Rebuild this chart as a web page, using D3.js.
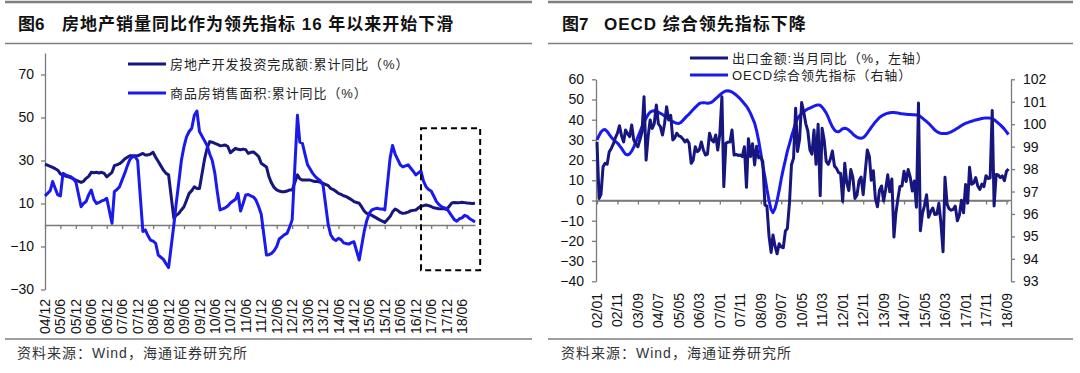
<!DOCTYPE html>
<html lang="zh">
<head>
<meta charset="utf-8">
<title>图6 / 图7</title>
<script src="https://cdn.jsdelivr.net/npm/d3@7"></script>
<style>
  html, body { margin: 0; padding: 0; background: #fff; }
  svg { display: block; }
  text { font-family: "Liberation Sans", Arial, "Noto Sans CJK SC", sans-serif; fill: #111; }
</style>
</head>
<body>
<svg id="chart" width="1080" height="373"></svg>
<script>
// =====================================================================
// 图6 数据：房地产（累计同比，1月无数据 → null）
// =====================================================================
const fig6Label = '图6';
const fig6Title = '房地产销量同比作为领先指标 16 年以来开始下滑';
const fig6Start = '2004-12';
const fig6Names = ['房地产开发投资完成额:累计同比（%）', '商品房销售面积:累计同比（%）'];

const investYoY = [
  28.3,
  null, 27.3, 26.8, 26.2, 25.5, 23.8, 23.2, 22.8, 22.4, 22.0, 21.4, 20.9,
  null, 19.8, 20.3, 21.7, 22.6, 24.5, 24.3, 24.5, 24.2, 24.5, 24.0, 22.4,
  null, 24.5, 27.6, 28.0, 28.5, 29.5, 30.7, 31.5, 32.2, 32.2, 32.2, 32.2,
  null, 33.3, 32.6, 32.6, 33.0, 33.8, 31.5, 29.5, 27.5, 25.5, 24.0, 23.3,
  null, 3.1, 4.5, 5.4, 7.0, 8.5, 11.5, 14.7, 16.0, 17.8, 17.0, 17.0,
  null, 31.0, 35.7, 38.8, 38.5, 38.0, 37.5, 36.9, 37.0, 37.2, 36.5, 33.6,
  null, 35.7, 35.2, 35.0, 35.3, 35.0, 33.3, 33.8, 34.0, 33.0, 31.8, 28.7,
  null, 27.0, 22.5, 19.5, 17.5, 16.3, 15.8, 15.5, 15.5, 15.8, 16.3, 16.3,
  null, 23.3, 21.5, 20.9, 20.9, 20.9, 20.9, 20.5, 20.2, 20.2, 19.8, 19.4,
  null, 18.3, 17.0, 16.5, 15.7, 14.7, 14.2, 13.6, 13.2, 12.5, 11.8, 10.9,
  null, 10.1, 8.5, 6.5, 5.4, 5.0, 4.5, 3.8, 3.1, 2.4, 1.8, 1.2,
  null, 3.9, 6.0, 7.4, 6.8, 5.8, 5.4, 5.6, 6.0, 6.6, 6.8, 7.0,
  null, 8.8, 9.0, 9.3, 9.0, 8.6, 8.0, 7.8, 7.6, 7.5, 7.6, 7.2,
  null, 10.3, 10.5, 10.3, 10.4, 10.6, 10.4, 10.2, 10.1, 10.0, 10.1
];

const salesAreaYoY = [
  13.5,
  null, 16.0, 20.2, 17.0, 14.0, 13.5, 24.0, 23.3, 22.8, 22.5, 21.5, 20.0,
  null, 8.5, 10.0, 10.9, 14.0, 16.3, 12.0, 10.0, 10.5, 11.2, 11.6, 12.4,
  null, 0.8, 15.5, 16.5, 17.8, 21.0, 24.0, 27.5, 30.5, 31.8, 31.8, 30.0,
  null, -3.0, -2.3, -5.0, -7.0, -7.5, -8.5, -14.0, -15.0, -16.0, -18.0, -19.8,
  null, 0.0, 10.0, 20.0, 30.0, 36.5, 41.0, 43.5, 45.0, 51.0, 53.0, 43.5,
  null, 39.0, 37.0, 33.0, 30.0, 24.0, 15.0, 7.0, 7.5, 8.0, 8.8, 10.2,
  null, 12.0, 14.7, 6.5, 10.0, 14.0, 14.2, 13.5, 13.0, 11.5, 8.5, 5.0,
  null, -14.0, -13.8, -13.2, -12.0, -10.0, -6.5, -5.5, -4.5, -3.9, -1.0, 2.5,
  null, 51.0, 38.5, 38.0, 33.0, 28.0, 26.0, 24.0, 22.5, 21.5, 20.5, 18.5,
  null, -0.1, -4.5, -6.5, -7.2, -6.2, -6.8, -8.3, -8.6, -8.9, -8.2, -7.8,
  null, -16.3, -10.0, -3.0, 2.0, 5.5, 7.0, 7.5, 7.8, 7.5, 7.5, 7.0,
  null, 31.0, 37.0, 33.0, 30.5, 28.0, 27.0, 27.5, 28.0, 26.5, 25.0, 23.3,
  null, 25.1, 20.5, 17.8, 16.5, 15.8, 13.5, 11.0, 9.5, 8.5, 8.0, 7.7,
  null, 4.1, 2.5, 1.8, 2.9, 3.3, 4.5, 4.0, 2.9, 2.2, 1.4
];

const fig6Ticks = ['04/12', '05/06', '05/12', '06/06', '06/12', '07/06', '07/12', '08/06', '08/12',
  '09/06', '09/12', '10/06', '10/12', '11/06', '11/12', '12/06', '12/12', '13/06', '13/12',
  '14/06', '14/12', '15/06', '15/12', '16/06', '16/12', '17/06', '17/12', '18/06'];
const fig6YTicks = [-30, -10, 10, 30, 50, 70];
const fig6YDomain = [-30, 80];
// 虚线框：起止月份、上下沿取值
const fig6BoxMonths = ['17/02', '19/01'];
const fig6BoxValues = [45, -21];

// =====================================================================
// 图7 数据：出口当月同比（左轴）与 OECD 综合领先指标（右轴）
// =====================================================================
const fig7Label = '图7';
const fig7Title = 'OECD 综合领先指标下降';
const fig7Start = '2002-01';
const fig7Names = ['出口金额:当月同比（%，左轴）', 'OECD综合领先指标（右轴）'];

const exportYoY = [
  29.0, 1.0, 3.0, 16.7, 18.4, 18.0, 24.0, 25.8, 28.0, 31.0, 33.3, 37.0,
  32.0, 29.0, 34.9, 33.0, 31.6, 37.4, 30.0, 28.0, 26.6, 30.0, 34.0, 51.4,
  20.0, 32.0, 39.9, 35.7, 38.0, 47.3, 38.0, 36.5, 32.4, 38.0, 46.4, 39.9,
  42.2, 30.0, 31.0, 33.3, 32.0, 31.6, 30.5, 29.0, 30.0, 28.3, 18.4, 20.0,
  26.6, 24.2, 25.0, 29.0, 25.0, 22.5, 23.0, 33.3, 30.0, 29.0, 32.4, 25.0,
  33.0, 51.4, 6.8, 28.3, 28.9, 29.0, 34.9, 22.5, 22.8, 22.3, 22.5, 21.7,
  26.6, 6.5, 30.6, 21.8, 28.1, 17.6, 26.9, 21.1, 21.5, 19.2, -2.2, -2.8,
  -17.5, -25.7, -17.1, -22.6, -26.4, -21.4, -23.0, -23.4, -15.2, -13.8, -1.2, 17.7,
  21.0, 45.7, 24.3, 30.5, 48.5, 43.9, 38.1, 34.4, 25.1, 22.9, 34.9, 17.9,
  37.7, 2.4, 35.8, 29.9, 19.4, 17.9, 20.4, 24.5, 17.1, 15.9, 13.8, 13.4,
  -0.5, 18.4, 8.9, 4.9, 15.3, 11.3, 1.0, 2.7, 9.9, 11.6, 2.9, 14.1,
  25.0, 21.8, 10.0, 14.7, 1.0, -3.1, 5.1, 7.2, -0.3, 5.6, 12.7, 4.3,
  10.6, -18.1, -6.6, 0.9, 7.0, 7.2, 14.5, 9.4, 15.3, 11.6, 4.7, 9.7,
  -3.3, 48.3, -15.0, -6.4, -2.5, 2.8, -8.3, -5.5, -3.7, -6.9, -6.8, -1.4,
  -11.2, -25.4, 11.5, -1.8, -4.1, -4.8, -4.4, -2.8, -10.0, -7.3, 0.1, -6.1,
  7.9, -1.3, 16.4, 8.0, 8.7, 11.3, 7.2, 5.5, 8.1, 6.9, 12.3, 10.9,
  11.1, 44.5, -2.7, 12.9, 12.6, 11.3, 12.2, 9.8, 14.5, 15.6
];

const oecdCli = [
  99.30, 99.50, 99.65, 99.74, 99.76, 99.68, 99.55, 99.42, 99.32, 99.24, 99.16, 99.05,
  98.92, 98.78, 98.66, 98.63, 98.68, 98.80, 98.98, 99.20, 99.43, 99.65, 99.88, 100.08,
  100.27, 100.43, 100.54, 100.59, 100.60, 100.57, 100.53, 100.48, 100.43, 100.37, 100.30, 100.24,
  100.18, 100.12, 100.07, 100.04, 100.03, 100.08, 100.17, 100.27, 100.37, 100.45, 100.55, 100.65,
  100.75, 100.84, 100.92, 100.95, 100.96, 100.95, 100.93, 100.94, 100.98, 101.05, 101.14, 101.22,
  101.30, 101.38, 101.44, 101.48, 101.49, 101.47, 101.43, 101.37, 101.30, 101.22, 101.13, 101.02,
  100.91, 100.80, 100.66, 100.48, 100.27, 100.05, 99.70, 99.25, 98.70, 98.15, 97.66, 97.10,
  96.60, 96.20, 96.06, 96.25, 96.60, 97.05, 97.55, 98.00, 98.40, 98.80, 99.12, 99.45,
  99.75, 100.05, 100.25, 100.38, 100.48, 100.56, 100.62, 100.68, 100.72, 100.76, 100.80, 100.84,
  100.86, 100.84, 100.76, 100.64, 100.50, 100.30, 100.08, 99.88, 99.74, 99.67, 99.66, 99.72,
  99.80, 99.82, 99.80, 99.74, 99.66, 99.56, 99.48, 99.42, 99.38, 99.37, 99.40, 99.48,
  99.60, 99.74, 99.86, 99.98, 100.10, 100.20, 100.30, 100.36, 100.42, 100.46, 100.49, 100.51,
  100.52, 100.52, 100.51, 100.50, 100.48, 100.46, 100.45, 100.44, 100.43, 100.43, 100.42, 100.42,
  100.41, 100.40, 100.34, 100.27, 100.19, 100.12, 100.04, 99.94, 99.84, 99.74, 99.67, 99.62,
  99.59, 99.58, 99.58, 99.59, 99.62, 99.66, 99.71, 99.76, 99.82, 99.88, 99.94, 99.99,
  100.04, 100.07, 100.10, 100.13, 100.16, 100.19, 100.21, 100.23, 100.25, 100.27, 100.28, 100.28,
  100.27, 100.25, 100.20, 100.13, 100.05, 99.97, 99.88, 99.78, 99.66, 99.54
];

const fig7Ticks = ['02/01', '02/11', '03/09', '04/07', '05/05', '06/03', '07/01', '07/11', '08/09',
  '09/07', '10/05', '11/03', '12/01', '12/11', '13/09', '14/07', '15/05', '16/03', '17/01',
  '17/11', '18/09'];
const fig7LeftTicks = [-40, -30, -20, -10, 0, 10, 20, 30, 40, 50, 60];
const fig7RightTicks = [93, 94, 95, 96, 97, 98, 99, 100, 101, 102];

const sourceNote = '资料来源：Wind，海通证券研究所';

// =====================================================================
// 公共设置
// =====================================================================
const navy = '#16167e';
const blue = '#1a1aee';
const ruleGray = '#7f7f7f';
const axisGray = '#7a7a7a';

const svg = d3.select('#chart');
const parseYM = d3.timeParse('%Y-%m');
const parseTick = d3.timeParse('%y/%m');

function toSeries(start, values) {
  const t0 = parseYM(start);
  return values
    .map((v, i) => ({ date: d3.timeMonth.offset(t0, i), value: v }))
    .filter(d => d.value !== null);
}

function lastMonth(start, values) {
  return d3.timeMonth.offset(parseYM(start), values.length - 1);
}

// 标题、分隔线、资料来源
function drawFrame(x0, x1, label, title, labelX, titleX) {
  const g = svg.append('g');
  [[2, 2.5], [43.5, 1.6], [339, 1.6]].forEach(([y, w]) => {
    g.append('line')
      .attr('x1', x0).attr('x2', x1).attr('y1', y).attr('y2', y)
      .attr('stroke', ruleGray).attr('stroke-width', w);
  });
  g.append('text').attr('x', labelX).attr('y', 30)
    .attr('font-size', 17).attr('font-weight', 'bold').text(label);
  g.append('text').attr('x', titleX).attr('y', 30)
    .attr('font-size', 17).attr('font-weight', 'bold')
    .attr('letter-spacing', 1).text(title);
  g.append('text').attr('x', labelX - 1).attr('y', 358)
    .attr('font-size', 14).attr('letter-spacing', 1)
    .style('fill', '#333').text(sourceNote);
}

function styleAxis(sel, fontSize) {
  sel.attr('font-size', fontSize).attr('font-family', null);
  sel.selectAll('path, line').attr('stroke', axisGray).attr('stroke-width', 1.3);
  sel.selectAll('text').style('fill', '#111');
}

function drawLegend(g, names, colors, x, ys) {
  names.forEach((name, i) => {
    g.append('line')
      .attr('x1', x).attr('x2', x + 38).attr('y1', ys[i]).attr('y2', ys[i])
      .attr('stroke', colors[i]).attr('stroke-width', 3.2);
    g.append('text')
      .attr('x', x + 42).attr('y', ys[i]).attr('dy', '0.36em')
      .attr('font-size', 13).attr('letter-spacing', 0.9)
      .style('fill', '#222')
      .text(name);
  });
}

// =====================================================================
// 图6
// =====================================================================
drawFrame(5, 532, fig6Label, fig6Title, 18, 62);

const g6 = svg.append('g');
const x6 = d3.scaleTime()
  .domain([parseYM(fig6Start), lastMonth(fig6Start, investYoY)])
  .range([45, 475]);
const y6 = d3.scaleLinear().domain(fig6YDomain).range([289.5, 53]);

g6.append('g')
  .attr('transform', `translate(${x6.range()[0]},0)`)
  .call(d3.axisLeft(y6).tickValues(fig6YTicks).tickSize(4).tickSizeOuter(0).tickPadding(7))
  .call(s => styleAxis(s, 14));

g6.append('g')
  .attr('transform', `translate(0,${y6(0)})`)
  .call(d3.axisBottom(x6).tickValues(fig6Ticks.map(parseTick)).tickSize(4).tickSizeOuter(0).tickFormat(''))
  .call(s => styleAxis(s, 13));

g6.append('g').selectAll('text').data(fig6Ticks).join('text')
  .attr('transform', d => `translate(${x6(parseTick(d))},299) rotate(-90)`)
  .attr('text-anchor', 'end').attr('dy', '0.36em')
  .attr('font-size', 14)
  .text(d => d);

const line6 = d3.line().x(d => x6(d.date)).y(d => y6(d.value));
[[investYoY, navy], [salesAreaYoY, blue]].forEach(([values, color]) => {
  g6.append('path')
    .datum(toSeries(fig6Start, values))
    .attr('d', line6)
    .attr('fill', 'none').attr('stroke', color).attr('stroke-width', 3)
    .attr('stroke-linejoin', 'round');
});

// 虚线框
const bx0 = x6(parseTick(fig6BoxMonths[0]));
const bx1 = x6(parseTick(fig6BoxMonths[1]));
g6.append('rect')
  .attr('x', bx0).attr('y', y6(fig6BoxValues[0]))
  .attr('width', bx1 - bx0).attr('height', y6(fig6BoxValues[1]) - y6(fig6BoxValues[0]))
  .attr('fill', 'none').attr('stroke', '#000').attr('stroke-width', 2)
  .attr('stroke-dasharray', '6,4');

drawLegend(g6, fig6Names, [navy, blue], 128, [64, 93]);

// =====================================================================
// 图7
// =====================================================================
drawFrame(548, 1073, fig7Label, fig7Title, 562, 604);

const g7 = svg.append('g');
const x7 = d3.scaleTime()
  .domain([parseYM(fig7Start), lastMonth(fig7Start, exportYoY)])
  .range([597, 1008.5]);
const y7L = d3.scaleLinear().domain([-40, 60]).range([281.3, 79.3]);
const y7R = d3.scaleLinear().domain([93, 102]).range([281.3, 79.3]);

g7.append('g')
  .attr('transform', 'translate(596,0)')
  .call(d3.axisLeft(y7L).tickValues(fig7LeftTicks).tickSize(4).tickSizeOuter(0).tickPadding(8))
  .call(s => styleAxis(s, 14));

g7.append('g')
  .attr('transform', 'translate(1011,0)')
  .call(d3.axisRight(y7R).tickValues(fig7RightTicks).tickSize(4).tickSizeOuter(0).tickPadding(8))
  .call(s => styleAxis(s, 14));

g7.append('g')
  .attr('transform', `translate(0,${y7L(0)})`)
  .call(d3.axisBottom(x7).tickValues(fig7Ticks.map(parseTick)).tickSize(4).tickSizeOuter(0).tickFormat(''))
  .call(s => styleAxis(s, 13));
// 横轴线延伸到两侧纵轴
g7.append('line')
  .attr('x1', 596).attr('x2', 1011).attr('y1', y7L(0)).attr('y2', y7L(0))
  .attr('stroke', axisGray).attr('stroke-width', 1.3);

g7.append('g').selectAll('text').data(fig7Ticks).join('text')
  .attr('transform', d => `translate(${x7(parseTick(d))},293) rotate(-90)`)
  .attr('text-anchor', 'end').attr('dy', '0.36em')
  .attr('font-size', 14)
  .text(d => d);

g7.append('path')
  .datum(toSeries(fig7Start, oecdCli))
  .attr('d', d3.line().x(d => x7(d.date)).y(d => y7R(d.value)))
  .attr('fill', 'none').attr('stroke', blue).attr('stroke-width', 3)
  .attr('stroke-linejoin', 'round');

g7.append('path')
  .datum(toSeries(fig7Start, exportYoY))
  .attr('d', d3.line().x(d => x7(d.date)).y(d => y7L(d.value)))
  .attr('fill', 'none').attr('stroke', navy).attr('stroke-width', 3)
  .attr('stroke-linejoin', 'round');

drawLegend(g7, fig7Names, [navy, blue], 690, [58, 75]);
</script>
</body>
</html>
